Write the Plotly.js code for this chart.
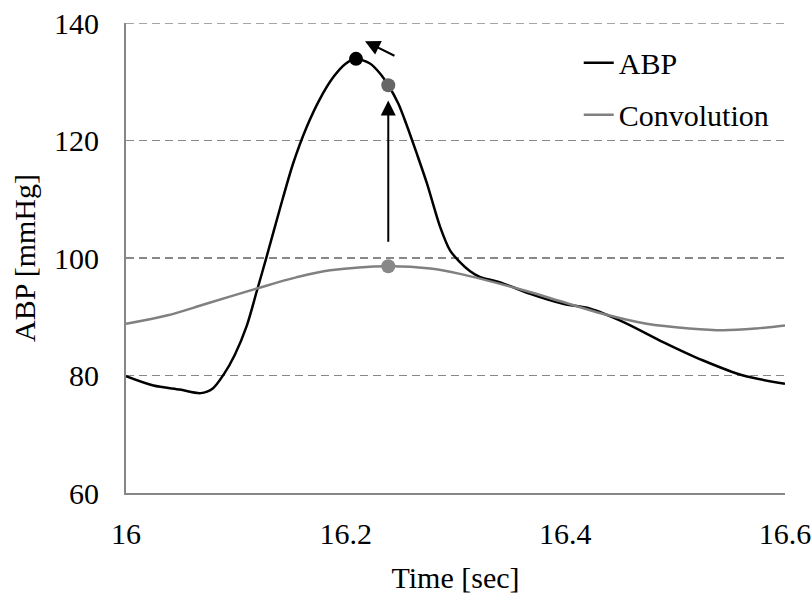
<!DOCTYPE html>
<html>
<head>
<meta charset="utf-8">
<script src="https://cdn.plot.ly/plotly-3.0.1.min.js"></script>
<style>html,body{margin:0;padding:0;background:#fff}#chart{width:812px;height:597px}</style>
</head>
<body>
<div id="chart"></div>
<script>
// ABP waveform (black)
const abpTime = [16.0, 16.025, 16.049, 16.068, 16.079, 16.089, 16.099, 16.110, 16.119, 16.128, 16.140, 16.152, 16.1645, 16.1766, 16.1888, 16.1994, 16.2094, 16.2221, 16.2313, 16.2388, 16.2479, 16.2556, 16.2647, 16.274, 16.286, 16.295, 16.304, 16.313, 16.322, 16.340, 16.368, 16.398, 16.422, 16.453, 16.489, 16.525, 16.562, 16.6];
const abpValue = [79.9, 78.3, 77.6, 77.0, 77.8, 80.2, 83.5, 88.5, 94.3, 100.2, 108.3, 116.0, 122.3, 127.1, 130.8, 133.0, 133.9, 133.1, 131.4, 129.4, 126.3, 122.6, 117.8, 112.7, 105.3, 101.3, 99.3, 97.8, 96.8, 95.9, 93.9, 92.2, 91.4, 89.1, 85.7, 82.6, 80.0, 78.6];
// Convolution (gray)
const convTime = [16.0, 16.037, 16.073, 16.119, 16.155, 16.186, 16.239, 16.277, 16.304, 16.362, 16.398, 16.434, 16.474, 16.513, 16.544, 16.574, 16.6];
const convValue = [88.8, 90.2, 92.2, 94.8, 96.7, 97.9, 98.6, 98.2, 97.3, 94.5, 92.5, 90.5, 88.8, 88.0, 87.7, 88.0, 88.5];
// Highlighted points
const peakPoint = {t: [16.2094], v: [133.9]};
const shiftedPoint = {t: [16.2388], v: [129.4]};
const convPeakPoint = {t: [16.2388], v: [98.6]};
// Arrows: [tailT, tailV, headT, headV]
const arrowUp = [16.2388, 102.5, 16.2388, 126.8];
const arrowLeft = [16.2458, 134.3, 16.2176, 136.9];
const yTicks = [60, 80, 100, 120, 140];
const xTicks = [16, 16.2, 16.4, 16.6];

const fam = '"Liberation Serif", "Times New Roman", serif';
const fs = 30;

const traces = [
  {x: abpTime, y: abpValue, name: 'ABP', legendgroup: 'a', mode: 'lines', line: {color: '#000', width: 2.5, shape: 'spline', smoothing: 0.8}},
  {x: convTime, y: convValue, name: 'Convolution', legendgroup: 'b', mode: 'lines', line: {color: '#808080', width: 2.5, shape: 'spline', smoothing: 1}},
  {x: peakPoint.t, y: peakPoint.v, mode: 'markers', marker: {color: '#000', size: 14}, showlegend: false},
  {x: shiftedPoint.t, y: shiftedPoint.v, mode: 'markers', marker: {color: '#666', size: 14}, showlegend: false},
  {x: convPeakPoint.t, y: convPeakPoint.v, mode: 'markers', marker: {color: '#888', size: 14}, showlegend: false}
];

function arrow(a) {
  return {x: a[2], y: a[3], ax: a[0], ay: a[1], xref: 'x', yref: 'y', axref: 'x', ayref: 'y',
    showarrow: true, arrowhead: 2, arrowsize: 1.5, arrowwidth: 2, arrowcolor: '#000', text: ''};
}

const layout = {
  width: 812, height: 597,
  margin: {l: 126, r: 27, t: 23, b: 104},
  paper_bgcolor: '#fff', plot_bgcolor: '#fff',
  font: {family: fam, size: fs, color: '#000'},
  showlegend: true,
  legend: {x: 0.687, y: 0.971, xanchor: 'left', yanchor: 'top', traceorder: 'grouped', tracegroupgap: 10,
    font: {family: fam, size: fs, color: '#000'}, bgcolor: 'rgba(0,0,0,0)', itemwidth: 30},
  xaxis: {range: [16, 16.6], tickvals: xTicks, ticktext: xTicks.map(String), showgrid: false, zeroline: false,
    showline: true, linecolor: '#868686', linewidth: 2, ticks: '', ticklabelstandoff: 13,
    tickfont: {family: fam, size: fs, color: '#000'},
    title: {text: 'Time [sec]', font: {family: fam, size: fs, color: '#000'}, standoff: 18}},
  yaxis: {range: [60, 140], tickvals: yTicks, showgrid: true, gridcolor: '#888', gridwidth: 1.5, griddash: '8px,5px',
    zeroline: false, showline: true, linecolor: '#868686', linewidth: 2, ticks: '', ticklabelstandoff: 19,
    tickfont: {family: fam, size: fs, color: '#000'},
    title: {text: 'ABP [mmHg]', font: {family: fam, size: fs, color: '#000'}, standoff: 10}},
  shapes: [
    {type: 'line', xref: 'paper', yref: 'y', x0: 0, x1: 1, y0: 140, y1: 140, line: {color: '#888', width: 1.5, dash: '8px,5px'}, layer: 'below'}
  ],
  annotations: [arrow(arrowUp), arrow(arrowLeft)]
};

Plotly.newPlot('chart', traces, layout, {staticPlot: true, displayModeBar: false});
</script>
</body>
</html>
